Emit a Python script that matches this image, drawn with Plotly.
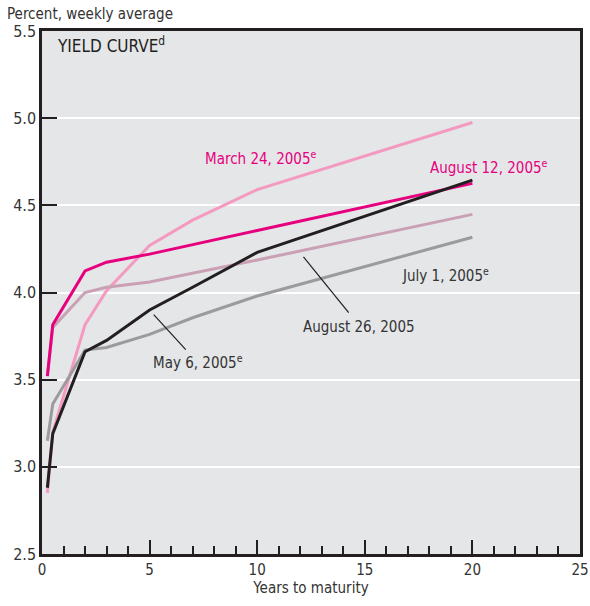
import plotly.graph_objects as go

maturities = [0.25, 0.5, 2, 3, 5, 7, 10, 20]
march24 = [2.85, 3.20, 3.815, 4.01, 4.27, 4.415, 4.59, 4.975]
july1 = [3.15, 3.36, 3.67, 3.685, 3.76, 3.855, 3.98, 4.317]
aug26 = [3.52, 3.80, 4.00, 4.03, 4.06, 4.11, 4.186, 4.448]
aug12 = [3.52, 3.815, 4.124, 4.174, 4.22, 4.275, 4.356, 4.626]
may6 = [2.88, 3.19, 3.66, 3.725, 3.90, 4.03, 4.23, 4.645]

FONT = "DejaVu Sans Condensed, Liberation Sans Narrow, sans-serif"

series = [
    ("March 24, 2005", march24, "#f49ac1"),
    ("July 1, 2005", july1, "#9b9b9d"),
    ("August 26, 2005", aug26, "#c9a0b4"),
    ("August 12, 2005", aug12, "#e6007e"),
    ("May 6, 2005", may6, "#231f20"),
]

fig = go.Figure()
for name, vals, col in series:
    fig.add_trace(go.Scatter(x=maturities, y=vals, mode="lines", name=name,
                             line=dict(color=col, width=3), showlegend=False))

fig.update_layout(
    width=590, height=606,
    margin=dict(l=42, r=10, t=31, b=52),
    paper_bgcolor="white", plot_bgcolor="#e5e6e8",
    font=dict(family=FONT, size=15, color="#333333"),
    xaxis=dict(range=[0, 25], dtick=5, tick0=0, showgrid=False, zeroline=False,
               automargin=False,
               showline=True, linecolor="#231f20", linewidth=2.5, mirror=True,
               ticks="inside", ticklen=14, tickwidth=2, tickcolor="#231f20",
               minor=dict(dtick=1, ticks="inside", ticklen=8, tickwidth=2, tickcolor="#231f20"),
               title=dict(text="Years to maturity", standoff=0, font=dict(size=15)),
               tickfont=dict(size=15)),
    yaxis=dict(range=[2.5, 5.5], dtick=0.5, tick0=2.5, tickformat=".1f",
               automargin=False,
               showgrid=True, gridcolor="white", gridwidth=2, zeroline=False,
               showline=True, linecolor="#231f20", linewidth=2.5, mirror=True,
               ticks="inside", ticklen=15, tickwidth=2, tickcolor="#231f20",
               tickfont=dict(size=16)),
)

anns = [
    dict(xref="paper", yref="paper", x=0.024, y=0.973, text="YIELD CURVE<sup>d</sup>",
         xanchor="left", yanchor="middle", font=dict(size=17, color="#231f20")),
    dict(xref="paper", yref="paper", x=-0.069, y=1.032, text="Percent, weekly average",
         xanchor="left", yanchor="middle", font=dict(size=15, color="#333333")),
    dict(x=7.48, y=4.77, text="March 24, 2005<sup>e</sup>", xanchor="left", yanchor="middle",
         font=dict(size=15, color="#e6007e")),
    dict(x=17.94, y=4.72, text="August 12, 2005<sup>e</sup>", xanchor="left", yanchor="middle",
         font=dict(size=15, color="#e6007e")),
    dict(x=16.64, y=4.10, text="July 1, 2005<sup>e</sup>", xanchor="left", yanchor="middle",
         font=dict(size=15, color="#333333")),
    dict(x=14.72, y=3.80, text="August 26, 2005", xanchor="center", yanchor="middle",
         font=dict(size=15, color="#333333")),
    dict(x=5.05, y=3.60, text="May 6, 2005<sup>e</sup>", xanchor="left", yanchor="middle",
         font=dict(size=15, color="#333333")),
]
for a in anns:
    a.setdefault("xref", "x")
    a.setdefault("yref", "y")
    a["showarrow"] = False
    fig.add_annotation(**a)

fig.add_shape(type="line", x0=12.15, y0=4.204, x1=14.25, y1=3.884,
              line=dict(color="#231f20", width=1.2))
fig.add_shape(type="line", x0=5.19, y0=3.873, x1=6.68, y1=3.672,
              line=dict(color="#231f20", width=1.2))

fig.write_html("out.html", config={"displayModeBar": False},
               post_script="document.body.style.margin='0px';document.body.style.overflow='hidden';")
